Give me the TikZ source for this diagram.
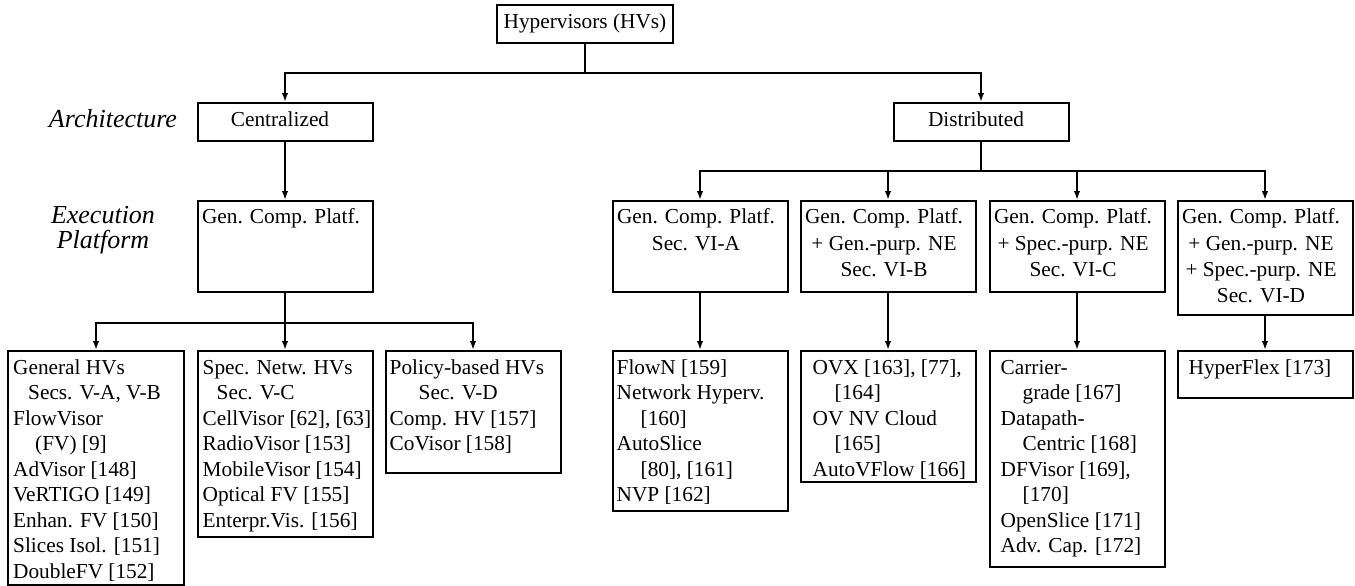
\documentclass[tikz,border=0pt]{standalone}
\usepackage{fontspec}
\setmainfont{Liberation Serif}
\usetikzlibrary{arrows.meta}
\begin{document}
\begin{tikzpicture}[x=1pt,y=-1pt,
  every node/.style={font=\fontsize{21.3}{25.5}\selectfont, inner sep=0pt},
  box/.style={draw, line width=2pt, minimum width=175pt, inner sep=0pt},
  topbox/.style={box, minimum height=38pt, text height=14.5pt, text depth=4.7pt},
  btxt/.style={anchor=north west, align=left},
  etxt/.style={anchor=north, align=center, font=\fontsize{21.3}{26.3}\selectfont},
  lbl/.style={font=\fontsize{26}{25}\selectfont\itshape, align=center},
  conn/.style={line width=2pt, -{Latex[length=9pt,width=6.5pt]}},
  ln/.style={line width=2pt}]
\useasboundingbox (0,0) rectangle (1355,586);

% labels
\node[lbl] (arch) at (113,119) {Architecture};
\node[lbl] (exec) at (103,230.5) {Execution\\Platform};

% top level
\node[topbox, minimum width=176pt] (root) at (585,24) {Hypervisors (HVs)};
\node[topbox] (cent) at (285,122) {Centralized\hspace*{10pt}};
\node[topbox] (dist) at (981,122) {Distributed\hspace*{10pt}};

% execution platform boxes
\node[box, minimum height=91pt] (gcp) at (285,246.5) {};
\node[box, minimum height=91pt] (d1) at (700,246.5) {};
\node[box, minimum height=91pt] (d2) at (888,246.5) {};
\node[box, minimum height=91pt] (d3) at (1077,246.5) {};
\node[box, minimum height=114pt] (d4) at (1265,258) {};

\node[etxt, xshift=-4pt, yshift=-5.1pt] (tgcp) at (gcp.north) {\strut Gen. Comp. Platf.};
\node[etxt, xshift=-4pt, yshift=-5.1pt] (td1) at (d1.north) {\strut Gen. Comp. Platf.\\Sec. VI-A};
\node[etxt, xshift=-4pt, yshift=-5.1pt] (td2) at (d2.north) {\strut Gen. Comp. Platf.\\+ Gen.-purp. NE\\Sec. VI-B};
\node[etxt, xshift=-4pt, yshift=-5.1pt] (td3) at (d3.north) {\strut Gen. Comp. Platf.\\+ Spec.-purp. NE\\Sec. VI-C};
\node[etxt, xshift=-4pt, yshift=-5.1pt] (td4) at (d4.north) {\strut Gen. Comp. Platf.\\+ Gen.-purp. NE\\+ Spec.-purp. NE\\Sec. VI-D};

% bottom boxes
\node[box, minimum width=176pt, minimum height=234pt] (L1) at (96,468) {};
\node[box, minimum height=186pt] (L2) at (285,444) {};
\node[box, minimum height=122pt] (L3) at (473,412) {};
\node[box, minimum height=160pt] (B1) at (700,431) {};
\node[box, minimum height=131pt] (B2) at (888,416.5) {};
\node[box, minimum height=216pt] (B3) at (1077,459) {};
\node[box, minimum height=47pt] (B4) at (1265,374.5) {};

\node[btxt, xshift=6pt, yshift=-6.2pt] (tL1) at (L1.north west) {\strut General HVs\\
\hspace*{15pt}Secs. V-A, V-B\\
FlowVisor\\
\hspace*{22pt}(FV) [9]\\
AdVisor [148]\\
VeRTIGO [149]\\
Enhan. FV [150]\\
Slices Isol. [151]\\
DoubleFV [152]};
\node[btxt, xshift=6pt, yshift=-6.2pt] (tL2) at (L2.north west) {\strut Spec. Netw. HVs\\
\hspace*{14pt}Sec. V-C\\
CellVisor [62], [63]\\
RadioVisor [153]\\
MobileVisor [154]\\
Optical FV [155]\\
Enterpr.Vis. [156]};
\node[btxt, xshift=5pt, yshift=-6.2pt] (tL3) at (L3.north west) {\strut Policy-based HVs\\
\hspace*{29pt}Sec. V-D\\
Comp. HV [157]\\
CoVisor [158]};
\node[btxt, xshift=5pt, yshift=-6.2pt] (tB1) at (B1.north west) {\strut FlowN [159]\\
Network Hyperv.\\
\hspace*{24pt}[160]\\
AutoSlice\\
\hspace*{24pt}[80], [161]\\
NVP [162]};
\node[btxt, xshift=13pt, yshift=-6.2pt] (tB2) at (B2.north west) {\strut OVX [163], [77],\\
\hspace*{22pt}[164]\\
OV NV Cloud\\
\hspace*{22pt}[165]\\
AutoVFlow [166]};
\node[btxt, xshift=12pt, yshift=-6.2pt] (tB3) at (B3.north west) {\strut Carrier-\\
\hspace*{22pt}grade [167]\\
Datapath-\\
\hspace*{22pt}Centric [168]\\
DFVisor [169],\\
\hspace*{22pt}[170]\\
OpenSlice [171]\\
Adv. Cap. [172]};
\node[btxt, xshift=12pt, yshift=-6.2pt] (tB4) at (B4.north west) {\strut HyperFlex [173]};

% connectors
\coordinate (rb) at (585,73);
\draw[ln] (root) -- (rb);
\draw[conn] (rb) -| (cent);
\draw[conn] (rb) -| (dist);
\draw[conn] (cent) -- (gcp);

\coordinate (gb) at (285,323);
\draw[ln] (gcp) -- (gb);
\draw[conn] (gb) -| (L1);
\draw[conn] (gb) -- (L2);
\draw[conn] (gb) -| (L3);

\coordinate (db) at (981,171);
\draw[ln] (dist) -- (db);
\draw[conn] (db) -| (d1);
\draw[conn] (db) -| (d2);
\draw[conn] (db) -| (d3);
\draw[conn] (db) -| (d4);

\draw[conn] (d1) -- (B1);
\draw[conn] (d2) -- (B2);
\draw[conn] (d3) -- (B3);
\draw[conn] (d4) -- (B4);
\end{tikzpicture}
\end{document}
